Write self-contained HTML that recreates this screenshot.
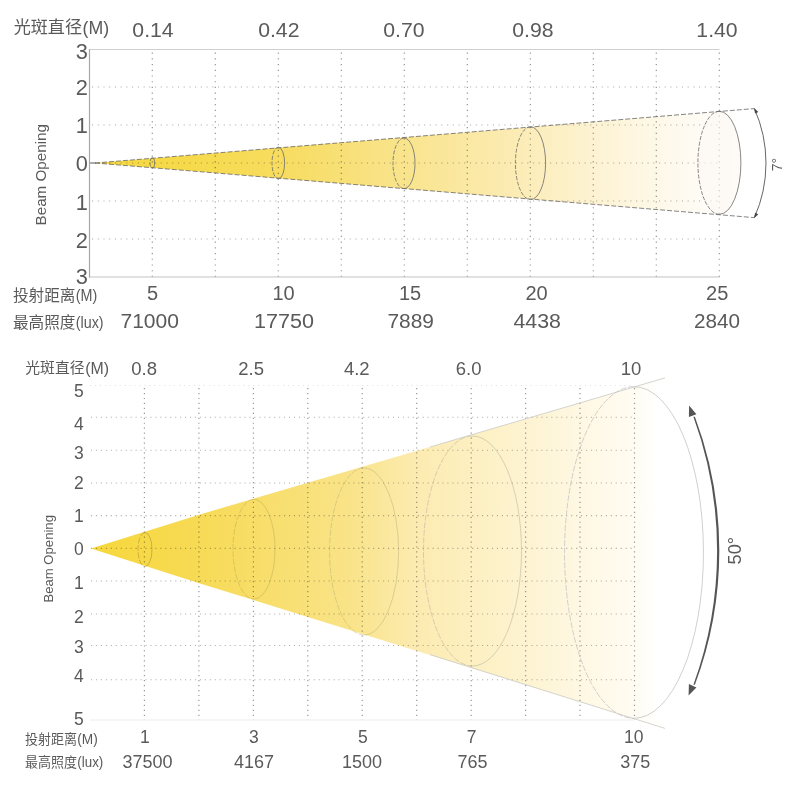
<!DOCTYPE html>
<html lang="zh"><head><meta charset="utf-8"><title>Beam chart</title>
<style>html,body{margin:0;padding:0;background:#fff}body{width:800px;height:792px;overflow:hidden}svg{display:block}text{font-family:"Liberation Sans","Noto Sans CJK SC",sans-serif;fill:#5a5a5a}.mul{mix-blend-mode:multiply}</style></head><body>
<svg width="800" height="792" viewBox="0 0 800 792">
<defs>
<linearGradient id="g1" gradientUnits="userSpaceOnUse" x1="95" y1="0" x2="740" y2="0"><stop offset="0" stop-color="#f6d840"/><stop offset="0.14" stop-color="#f6da4b"/><stop offset="0.29" stop-color="#f7dc60"/><stop offset="0.41" stop-color="#f8e17d"/><stop offset="0.60" stop-color="#fbe9a8"/><stop offset="0.78" stop-color="#fdf3d4"/><stop offset="0.91" stop-color="#fefaf0"/><stop offset="1" stop-color="#ffffff"/></linearGradient>
<linearGradient id="g2" gradientUnits="userSpaceOnUse" x1="90" y1="0" x2="661" y2="0"><stop offset="0" stop-color="#f6d73c"/><stop offset="0.10" stop-color="#f7d948"/><stop offset="0.19" stop-color="#f7da55"/><stop offset="0.45" stop-color="#f9e387"/><stop offset="0.57" stop-color="#fcebb0"/><stop offset="0.71" stop-color="#fdf1c8"/><stop offset="0.845" stop-color="#fef7e0"/><stop offset="0.94" stop-color="#fffbf0"/><stop offset="1" stop-color="#ffffff"/></linearGradient>
</defs>
<rect width="800" height="792" fill="#fff"/>
<g stroke="#949494" stroke-width="1.2" stroke-dasharray="1.2 4.527" fill="none">
<line x1="152.3" y1="52.5" x2="152.3" y2="277"/>
<line x1="215.3" y1="52.5" x2="215.3" y2="277"/>
<line x1="278.3" y1="52.5" x2="278.3" y2="277"/>
<line x1="341.3" y1="52.5" x2="341.3" y2="277"/>
<line x1="404.3" y1="52.5" x2="404.3" y2="277"/>
<line x1="467.3" y1="52.5" x2="467.3" y2="277"/>
<line x1="530.3" y1="52.5" x2="530.3" y2="277"/>
<line x1="593.3" y1="52.5" x2="593.3" y2="277"/>
<line x1="656.3" y1="52.5" x2="656.3" y2="277"/>
<line x1="719.3" y1="52.5" x2="719.3" y2="277"/>
</g>
<g stroke="#ababab" stroke-width="1.1" stroke-dasharray="1.1 4.627" fill="none">
<line x1="92" y1="87.0" x2="719.5" y2="87.0"/>
<line x1="92" y1="125.0" x2="719.5" y2="125.0"/>
<line x1="92" y1="163.0" x2="719.5" y2="163.0"/>
<line x1="92" y1="201.0" x2="719.5" y2="201.0"/>
<line x1="92" y1="239.0" x2="719.5" y2="239.0"/>
</g>
<polygon class="mul" points="95,163 754,108.6 754,217.6" fill="url(#g1)"/>
<ellipse cx="719.4" cy="162.8" rx="21.5" ry="51.5" fill="#fcf6f2" opacity="0.6"/>
<line x1="89.5" y1="49.5" x2="719.5" y2="49.5" stroke="#cfcfcf" stroke-width="1"/>
<line x1="89.5" y1="277" x2="719.5" y2="277" stroke="#c4c4c4" stroke-width="1.2"/>
<line x1="89.5" y1="49" x2="89.5" y2="277.5" stroke="#a8a8a8" stroke-width="1.2"/>
<line x1="89.5" y1="163" x2="96" y2="163" stroke="#9a9a9a" stroke-width="1.6"/>
<g stroke="#666" stroke-width="0.8" stroke-dasharray="5 2" fill="none">
<line x1="95" y1="163" x2="754" y2="108.6"/><line x1="95" y1="163" x2="754" y2="217.6"/></g>
<path d="M152.3 157.8 A2.3 5.2 0 0 1 152.3 168.2" fill="none" stroke="#6a6a6a" stroke-width="0.8"/>
<path d="M152.3 157.8 A2.3 5.2 0 0 0 152.3 168.2" fill="none" stroke="#6a6a6a" stroke-width="0.8" stroke-dasharray="4 1.5"/>
<path d="M278.3 147.2 A6.3 15.8 0 0 1 278.3 178.8" fill="none" stroke="#6a6a6a" stroke-width="0.8"/>
<path d="M278.3 147.2 A6.3 15.8 0 0 0 278.3 178.8" fill="none" stroke="#6a6a6a" stroke-width="0.8" stroke-dasharray="4 1.5"/>
<path d="M404.0 138.0 A11.0 25.3 0 0 1 404.0 188.6" fill="none" stroke="#6a6a6a" stroke-width="0.8"/>
<path d="M404.0 138.0 A11.0 25.3 0 0 0 404.0 188.6" fill="none" stroke="#6a6a6a" stroke-width="0.8" stroke-dasharray="4 1.5"/>
<path d="M530.5 126.8 A15.1 36.4 0 0 1 530.5 199.6" fill="none" stroke="#6a6a6a" stroke-width="0.8"/>
<path d="M530.5 126.8 A15.1 36.4 0 0 0 530.5 199.6" fill="none" stroke="#6a6a6a" stroke-width="0.8" stroke-dasharray="4 1.5"/>
<path d="M719.4 111.3 A21.5 51.5 0 0 1 719.4 214.3" fill="none" stroke="#6a6a6a" stroke-width="0.8"/>
<path d="M719.4 111.3 A21.5 51.5 0 0 0 719.4 214.3" fill="none" stroke="#6a6a6a" stroke-width="0.8" stroke-dasharray="4 1.5"/>
<path d="M754.4 108.6 A134 134 0 0 1 754.4 217.6" fill="none" stroke="#555" stroke-width="0.9"/>
<polygon points="754.1,107.9 755.1,113.4 758.3,112.0" fill="#444"/>
<polygon points="754.1,218.3 755.1,212.8 758.3,214.2" fill="#444"/>
<text transform="translate(782,164.6) rotate(-90)" font-size="14" text-anchor="middle">7°</text>
<text x="13.7" y="33.2" font-size="17" text-anchor="start" textLength="68.3" lengthAdjust="spacingAndGlyphs">光斑直径</text>
<text x="82.6" y="33.8" font-size="17.5" text-anchor="start" textLength="26.6" lengthAdjust="spacingAndGlyphs">(M)</text>
<text x="153.0" y="37.2" font-size="20.5" text-anchor="middle" textLength="41.3" lengthAdjust="spacingAndGlyphs">0.14</text>
<text x="278.8" y="37.2" font-size="20.5" text-anchor="middle" textLength="41.3" lengthAdjust="spacingAndGlyphs">0.42</text>
<text x="403.9" y="37.2" font-size="20.5" text-anchor="middle" textLength="41.3" lengthAdjust="spacingAndGlyphs">0.70</text>
<text x="532.9" y="37.2" font-size="20.5" text-anchor="middle" textLength="41.3" lengthAdjust="spacingAndGlyphs">0.98</text>
<text x="717.0" y="37.2" font-size="20.5" text-anchor="middle" textLength="41.3" lengthAdjust="spacingAndGlyphs">1.40</text>
<text x="87.8" y="59.3" font-size="21.8" text-anchor="end">3</text>
<text x="87.8" y="95.0" font-size="21.8" text-anchor="end">2</text>
<text x="87.8" y="132.8" font-size="21.8" text-anchor="end">1</text>
<text x="87.8" y="170.8" font-size="21.8" text-anchor="end">0</text>
<text x="87.8" y="210.1" font-size="21.8" text-anchor="end">1</text>
<text x="87.8" y="248.0" font-size="21.8" text-anchor="end">2</text>
<text x="87.8" y="283.8" font-size="21.8" text-anchor="end">3</text>
<text transform="translate(46.2,174.7) rotate(-90)" font-size="14.3" text-anchor="middle" textLength="101.5" lengthAdjust="spacingAndGlyphs" fill="#666">Beam Opening</text>
<text x="13.0" y="301.3" font-size="16" text-anchor="start" textLength="62.5" lengthAdjust="spacingAndGlyphs">投射距离</text>
<text x="75.8" y="301.3" font-size="16" text-anchor="start" textLength="21.5" lengthAdjust="spacingAndGlyphs">(M)</text>
<text x="13.0" y="328.3" font-size="16" text-anchor="start" textLength="62.5" lengthAdjust="spacingAndGlyphs">最高照度</text>
<text x="75.8" y="328.3" font-size="16" text-anchor="start" textLength="27.8" lengthAdjust="spacingAndGlyphs">(lux)</text>
<text x="152.5" y="300.4" font-size="20" text-anchor="middle">5</text>
<text x="283.5" y="300.4" font-size="20" text-anchor="middle">10</text>
<text x="410.0" y="300.4" font-size="20" text-anchor="middle">15</text>
<text x="536.5" y="300.4" font-size="20" text-anchor="middle">20</text>
<text x="717.2" y="300.4" font-size="20" text-anchor="middle">25</text>
<text x="149.7" y="328.3" font-size="20" text-anchor="middle" textLength="58.5" lengthAdjust="spacingAndGlyphs">71000</text>
<text x="284.0" y="328.3" font-size="20" text-anchor="middle" textLength="60.0" lengthAdjust="spacingAndGlyphs">17750</text>
<text x="410.7" y="328.3" font-size="20" text-anchor="middle" textLength="46.5" lengthAdjust="spacingAndGlyphs">7889</text>
<text x="537.2" y="328.3" font-size="20" text-anchor="middle" textLength="47.5" lengthAdjust="spacingAndGlyphs">4438</text>
<text x="717.0" y="328.3" font-size="20" text-anchor="middle" textLength="46.0" lengthAdjust="spacingAndGlyphs">2840</text>
<g stroke="#9a9a9a" stroke-width="1.2" stroke-dasharray="1.2 3.75" fill="none">
<line x1="144.4" y1="388" x2="144.4" y2="720"/>
<line x1="198.9" y1="388" x2="198.9" y2="720"/>
<line x1="253.4" y1="388" x2="253.4" y2="720"/>
<line x1="307.8" y1="388" x2="307.8" y2="720"/>
<line x1="362.2" y1="388" x2="362.2" y2="720"/>
<line x1="416.7" y1="388" x2="416.7" y2="720"/>
<line x1="471.2" y1="388" x2="471.2" y2="720"/>
<line x1="525.6" y1="388" x2="525.6" y2="720"/>
<line x1="580.0" y1="388" x2="580.0" y2="720"/>
<line x1="634.5" y1="388" x2="634.5" y2="720"/>
</g>
<g stroke="#b0b0b0" stroke-width="1.1" stroke-dasharray="1.1 3.85" fill="none">
<line x1="91" y1="417.3" x2="634.5" y2="417.3"/>
<line x1="91" y1="450.2" x2="634.5" y2="450.2"/>
<line x1="91" y1="483.0" x2="634.5" y2="483.0"/>
<line x1="91" y1="515.6" x2="634.5" y2="515.6"/>
<line x1="91" y1="548.4" x2="634.5" y2="548.4"/>
<line x1="91" y1="581.0" x2="634.5" y2="581.0"/>
<line x1="91" y1="614.0" x2="634.5" y2="614.0"/>
<line x1="91" y1="645.5" x2="634.5" y2="645.5"/>
<line x1="91" y1="679.8" x2="634.5" y2="679.8"/>
</g>
<line x1="90" y1="385.5" x2="634.5" y2="385.5" stroke="#e2e2e2" stroke-width="1" stroke-dasharray="1.1 3.85"/>
<line x1="90" y1="720" x2="634.5" y2="720" stroke="#ececec" stroke-width="1"/>
<polygon class="mul" points="91,548.5 200,514.4 665,377.9 665,728.4 200,583.4" fill="url(#g2)"/>
<g stroke="#cfcfca" stroke-width="0.9" fill="none">
<line x1="430" y1="447" x2="665" y2="377.9"/><line x1="430" y1="654.6" x2="665" y2="728.4"/></g>
<path d="M145.0 532.5 A7.0 17.0 0 0 1 145.0 566.5" fill="none" stroke="#a89030" stroke-width="0.7" opacity="0.8"/>
<path d="M145.0 532.5 A7.0 17.0 0 0 0 145.0 566.5" fill="none" stroke="#a89030" stroke-width="0.7" stroke-dasharray="6 1.5" opacity="0.8"/>
<path d="M254.0 499.4 A21.0 49.8 0 0 1 254.0 599.0" fill="none" stroke="#a89a50" stroke-width="0.7" opacity="0.55"/>
<path d="M254.0 499.4 A21.0 49.8 0 0 0 254.0 599.0" fill="none" stroke="#a89a50" stroke-width="0.7" stroke-dasharray="6 1.5" opacity="0.55"/>
<path d="M364.1 468.0 A34.5 83.5 0 0 1 364.1 635.0" fill="none" stroke="#b0a670" stroke-width="0.7" opacity="0.6"/>
<path d="M364.1 468.0 A34.5 83.5 0 0 0 364.1 635.0" fill="none" stroke="#b0a670" stroke-width="0.7" stroke-dasharray="6 1.5" opacity="0.6"/>
<path d="M472.5 436.0 A49.0 115.0 0 0 1 472.5 666.0" fill="none" stroke="#b8b4a0" stroke-width="0.7" opacity="0.8"/>
<path d="M472.5 436.0 A49.0 115.0 0 0 0 472.5 666.0" fill="none" stroke="#b8b4a0" stroke-width="0.7" stroke-dasharray="6 1.5" opacity="0.8"/>
<path d="M634.0 386.7 A69.5 165.8 0 0 1 634.0 718.3" fill="none" stroke="#c4c4c4" stroke-width="0.8" opacity="1"/>
<path d="M634.0 386.7 A69.5 165.8 0 0 0 634.0 718.3" fill="none" stroke="#c4c4c4" stroke-width="0.8" stroke-dasharray="6 1.5" opacity="1"/>
<path d="M694.9 416.8 A380 380 0 0 1 694.9 684.8 L693.4 684.8 A390.7 390.7 0 0 0 693.4 416.8 Z" fill="#555"/>
<polygon points="689.1,405.6 688.9,416.9 696.4,414.3" fill="#555"/>
<polygon points="688.6,695.4 688.9,684.0 696.4,687.4" fill="#555"/>
<text transform="translate(741.3,550.7) rotate(-90)" font-size="18.2" text-anchor="middle">50°</text>
<text x="25.3" y="373.3" font-size="15" text-anchor="start" textLength="59.3" lengthAdjust="spacingAndGlyphs">光斑直径</text>
<text x="85.2" y="373.6" font-size="16" text-anchor="start" textLength="23.8" lengthAdjust="spacingAndGlyphs">(M)</text>
<text x="144.2" y="374.6" font-size="18.5" text-anchor="middle">0.8</text>
<text x="251.1" y="374.6" font-size="18.5" text-anchor="middle">2.5</text>
<text x="356.8" y="374.6" font-size="18.5" text-anchor="middle">4.2</text>
<text x="468.7" y="374.6" font-size="18.5" text-anchor="middle">6.0</text>
<text x="631.0" y="374.6" font-size="18.5" text-anchor="middle">10</text>
<text x="83.8" y="396.8" font-size="17.5" text-anchor="end">5</text>
<text x="83.8" y="430.3" font-size="17.5" text-anchor="end">4</text>
<text x="83.8" y="459.2" font-size="17.5" text-anchor="end">3</text>
<text x="83.8" y="489.0" font-size="17.5" text-anchor="end">2</text>
<text x="83.8" y="521.8" font-size="17.5" text-anchor="end">1</text>
<text x="83.8" y="555.3" font-size="17.5" text-anchor="end">0</text>
<text x="83.8" y="589.1" font-size="17.5" text-anchor="end">1</text>
<text x="83.8" y="623.3" font-size="17.5" text-anchor="end">2</text>
<text x="83.8" y="652.8" font-size="17.5" text-anchor="end">3</text>
<text x="83.8" y="682.3" font-size="17.5" text-anchor="end">4</text>
<text x="83.8" y="725.0" font-size="17.5" text-anchor="end">5</text>
<text transform="translate(53.1,558.8) rotate(-90)" font-size="12.5" text-anchor="middle" textLength="87.5" lengthAdjust="spacingAndGlyphs" fill="#666">Beam Opening</text>
<text x="25.0" y="743.6" font-size="13.5" text-anchor="start" textLength="52.0" lengthAdjust="spacingAndGlyphs">投射距离</text>
<text x="77.3" y="744.0" font-size="14" text-anchor="start" textLength="20.5" lengthAdjust="spacingAndGlyphs">(M)</text>
<text x="25.0" y="766.6" font-size="13.5" text-anchor="start" textLength="52.0" lengthAdjust="spacingAndGlyphs">最高照度</text>
<text x="77.3" y="767.0" font-size="14" text-anchor="start" textLength="26.0" lengthAdjust="spacingAndGlyphs">(lux)</text>
<text x="144.8" y="742.5" font-size="17.5" text-anchor="middle">1</text>
<text x="253.8" y="742.5" font-size="17.5" text-anchor="middle">3</text>
<text x="362.8" y="742.5" font-size="17.5" text-anchor="middle">5</text>
<text x="471.6" y="742.5" font-size="17.5" text-anchor="middle">7</text>
<text x="633.8" y="742.5" font-size="17.5" text-anchor="middle">10</text>
<text x="147.5" y="767.5" font-size="18" text-anchor="middle">37500</text>
<text x="254.0" y="767.5" font-size="18" text-anchor="middle">4167</text>
<text x="362.0" y="767.5" font-size="18" text-anchor="middle">1500</text>
<text x="472.5" y="767.5" font-size="18" text-anchor="middle">765</text>
<text x="635.3" y="767.5" font-size="18" text-anchor="middle">375</text>
</svg></body></html>
